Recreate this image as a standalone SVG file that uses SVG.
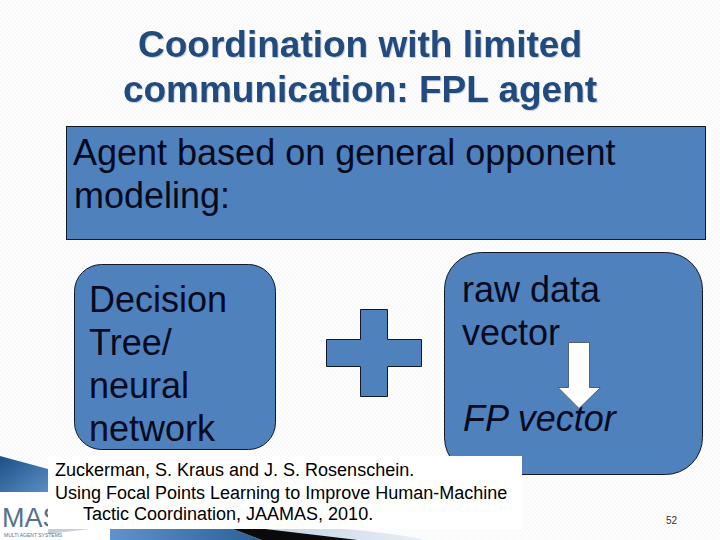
<svg xmlns="http://www.w3.org/2000/svg" width="720" height="540" viewBox="0 0 720 540">
<defs>
<linearGradient id="dk" x1="0" y1="0" x2="1" y2="1"><stop offset="0" stop-color="#1c4f86"/><stop offset="1" stop-color="#5a8ec4"/></linearGradient>
<linearGradient id="lt" x1="0" y1="0" x2="1" y2="0"><stop offset="0" stop-color="#c4d3e6"/><stop offset="1" stop-color="#e8eef6"/></linearGradient>
<linearGradient id="bot" x1="0" y1="0" x2="1" y2="0"><stop offset="0" stop-color="#5f93c9"/><stop offset="1" stop-color="#2a5f98"/></linearGradient>
<pattern id="hatch" width="4" height="4" patternUnits="userSpaceOnUse"><rect width="4" height="4" fill="#fdfdfd"/><path d="M0 4L4 0" stroke="#f5f6f8" stroke-width="1"/></pattern>
<clipPath id="logoclip"><rect x="0" y="500" width="48" height="40"/></clipPath>
</defs>
<style>
text{font-family:"Liberation Sans",Arial,sans-serif}
.title{font-size:37px;font-weight:bold;fill:#234a7c;text-anchor:middle;filter:drop-shadow(1px 1px 0 #c3d0e2)}
.body{font-size:36px;fill:#050a1e}
.shape{fill:#4f81bd;stroke:#10182a;stroke-width:1}
.cite{font-size:18px;fill:#000}
</style>
<rect width="720" height="540" fill="url(#hatch)"/>
<g id="background">
<path d="M0 456L48 469V492H0Z" fill="url(#dk)"/>
<path d="M110 529H233L262 540H110Z" fill="url(#bot)"/>
<path d="M233 529L320 529L358 540H262Z" fill="#0a0a0a"/>
<path d="M265 529H345Q400 534 425 540H358Z" fill="url(#lt)"/>
<path d="M48 529L90 529L48 534Z" fill="#c8ced6"/>
<rect x="0" y="492" width="110" height="48" fill="#fff"/>
<path d="M48 529L90 529L48 534Z" fill="#c8ced6"/>
</g>
<g id="logo">
<text x="2" y="527" font-size="27" fill="#56708f" font-family="Liberation Serif" clip-path="url(#logoclip)">MAS</text>
<text x="4" y="537" font-size="5" fill="#56708f">MULTI AGENT SYSTEMS</text>
</g>
<g id="title">
<text class="title" x="360" y="57">Coordination with limited</text>
<text class="title" x="360" y="102">communication: FPL agent</text>
</g>
<g id="agent-box">
<rect class="shape" x="66.500" y="126.500" width="639" height="113"/>
<text class="body" x="73" y="165">Agent based on general opponent</text>
<text class="body" x="74" y="208">modeling:</text>
</g>
<g id="tree-box">
<rect class="shape" x="74.500" y="264.500" width="201" height="185" rx="27"/>
<text class="body" x="89" y="312">Decision</text>
<text class="body" x="89" y="355">Tree/</text>
<text class="body" x="89" y="398">neural</text>
<text class="body" x="89" y="441">network</text>
</g>
<g id="plus">
<path class="shape" d="M360.500 309.500H387.500V339.500H421.500V366.500H387.500V396.500H360.500V366.500H326.500V339.500H360.500Z"/>
</g>
<g id="raw-box">
<rect class="shape" x="444.500" y="252.500" width="258" height="222" rx="37"/>
<text class="body" x="462" y="302">raw data</text>
<text class="body" x="462" y="345">vector</text>
<text class="body" x="463" y="431" font-style="italic">FP vector</text>
</g>
<g id="arrow">
<path d="M568.500 342.500H589.500V387.500H600.500L579 408.500L558 387.500H568.500Z" fill="#fff" stroke="#50606e" stroke-width="1"/>
</g>
<g id="citation">
<rect x="48" y="456" width="474" height="73" fill="#fff"/>
<text class="cite" x="55" y="476">Zuckerman, S. Kraus and J. S. Rosenschein.</text>
<text class="cite" x="55" y="499">Using Focal Points Learning to Improve Human-Machine</text>
<text class="cite" x="83" y="520">Tactic Coordination, JAAMAS, 2010.</text>
</g>
<text id="page" x="666" y="524" font-size="10" fill="#333">52</text>
</svg>
